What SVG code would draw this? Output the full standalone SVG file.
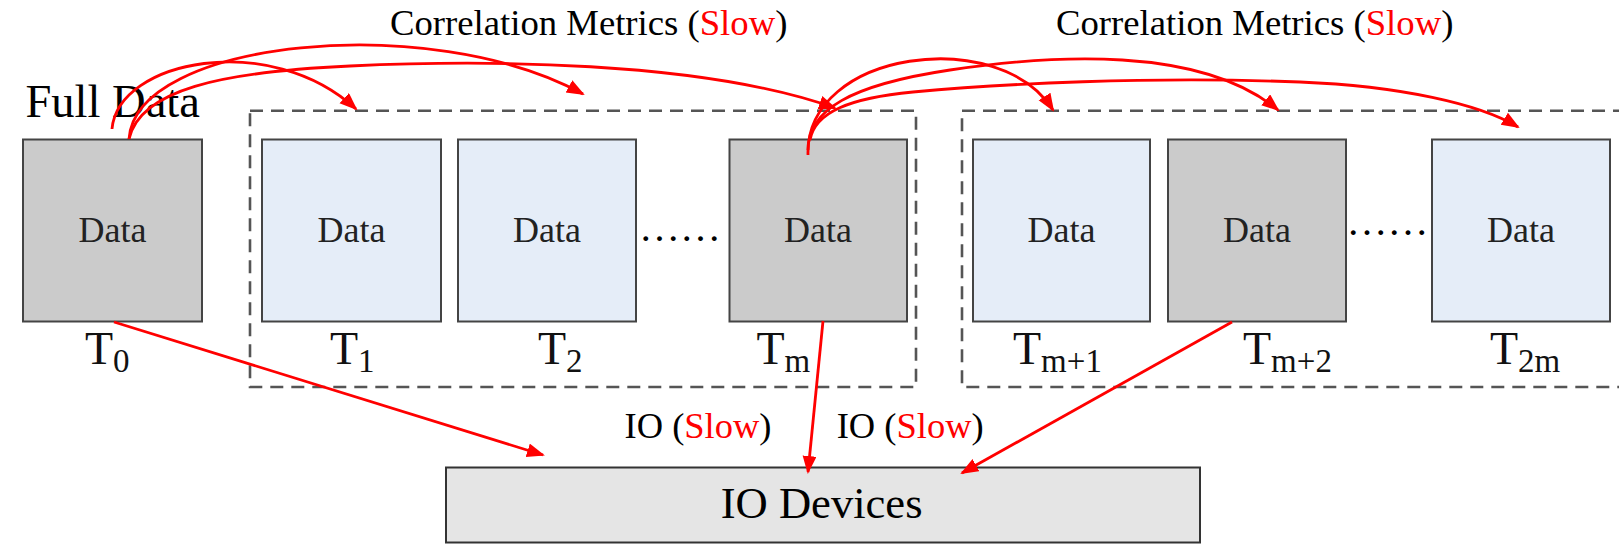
<svg xmlns="http://www.w3.org/2000/svg" width="1619" height="544" viewBox="0 0 1619 544">
<style>
.t{font-family:"Liberation Serif","Times New Roman",serif;fill:#000}
.lbl{font-family:"Liberation Serif","Times New Roman",serif;font-size:46px;fill:#111}
.sub{font-size:33px}
.dt{font-family:"Liberation Serif","Times New Roman",serif;font-size:36px;fill:#222;text-anchor:middle}
.slow{fill:#ff0000}
.gray{fill:#cbcbcb;stroke:#444;stroke-width:2}
.blue{fill:#e5edf8;stroke:#444;stroke-width:2}
.dash{fill:none;stroke:#555;stroke-width:2.6;stroke-dasharray:13 8}
.io{fill:#e5e5e5;stroke:#333;stroke-width:2}
.c{fill:none;stroke:#ff0000;stroke-width:2.8;marker-end:url(#ah)}
.dots{font-family:"Liberation Serif","Times New Roman",serif;font-size:41px;fill:#000;text-anchor:middle}
</style>
<defs>
<marker id="ah" markerUnits="userSpaceOnUse" markerWidth="20" markerHeight="16" refX="16" refY="7" orient="auto">
<path d="M0,0 L18,7 L0,14 z" fill="#ff0000"/>
</marker>
</defs>
<rect width="1619" height="544" fill="#ffffff"/>

<text class="t" x="390" y="35" font-size="36.7">Correlation Metrics (<tspan class="slow">Slow</tspan>)</text>
<text class="t" x="1056" y="35" font-size="36.7">Correlation Metrics (<tspan class="slow">Slow</tspan>)</text>
<text class="t" x="25.5" y="117" font-size="46.5">Full Data</text>

<g id="group1"><rect class="dash" x="250" y="110.7" width="666" height="276.3"/></g>
<g id="group2"><rect class="dash" x="962" y="110.7" width="700" height="276.3"/></g>

<g id="T0"><rect class="gray" x="23" y="139.5" width="179" height="182"/><text class="dt" x="112.5" y="241.5">Data</text><text class="lbl" x="85" y="364">T<tspan class="sub" dy="8">0</tspan></text></g>
<g id="T1"><rect class="blue" x="262" y="139.5" width="179" height="182"/><text class="dt" x="351.5" y="241.5">Data</text><text class="lbl" x="330" y="364">T<tspan class="sub" dy="8">1</tspan></text></g>
<g id="T2"><rect class="blue" x="458" y="139.5" width="178" height="182"/><text class="dt" x="547" y="241.5">Data</text><text class="lbl" x="538" y="364">T<tspan class="sub" dy="8">2</tspan></text></g>
<text class="dots" x="680" y="241">……</text>
<g id="Tm"><rect class="gray" x="729.5" y="139.5" width="177.5" height="182"/><text class="dt" x="818" y="241.5">Data</text><text class="lbl" x="756.5" y="364">T<tspan class="sub" dy="8">m</tspan></text></g>
<g id="Tm1"><rect class="blue" x="973" y="139.5" width="177" height="182"/><text class="dt" x="1061.5" y="241.5">Data</text><text class="lbl" x="1013" y="364">T<tspan class="sub" dy="8">m+1</tspan></text></g>
<g id="Tm2"><rect class="gray" x="1168" y="139.5" width="178" height="182"/><text class="dt" x="1257" y="241.5">Data</text><text class="lbl" x="1243" y="364">T<tspan class="sub" dy="8">m+2</tspan></text></g>
<text class="dots" x="1387.5" y="235">……</text>
<g id="T2m"><rect class="blue" x="1432" y="139.5" width="178" height="182"/><text class="dt" x="1521" y="241.5">Data</text><text class="lbl" x="1490" y="364">T<tspan class="sub" dy="8">2m</tspan></text></g>

<g id="IODevices"><rect class="io" x="446" y="467.5" width="754" height="75"/><text class="t" x="720.7" y="518" font-size="44.6">IO Devices</text></g>

<text class="t" x="624.5" y="438" font-size="36.5">IO (<tspan class="slow">Slow</tspan>)</text>
<text class="t" x="836.7" y="438" font-size="36.5">IO (<tspan class="slow">Slow</tspan>)</text>

<g id="connectors">
<path class="c" d="M112,129 C118,60 270,30 356,109"/>
<path class="c" d="M129,139 C135,40 430,10 583,94"/>
<path class="c" d="M129,139 C140,90 220,72 350,66 C480,60 700,60 835,108"/>
<path class="c" d="M808,155 C805,50 1000,25 1053,110"/>
<path class="c" d="M808,150 C808,110 850,85 950,70 C1050,55 1200,45 1278,110"/>
<path class="c" d="M810,140 C815,112 850,98 913,92 C1000,84 1150,76 1300,82 C1400,86 1480,104 1518,127"/>
<path class="c" d="M114,322 L543,455"/>
<path class="c" d="M823,321 L808,472"/>
<path class="c" d="M1232,322 L962,473"/>
</g>
</svg>
